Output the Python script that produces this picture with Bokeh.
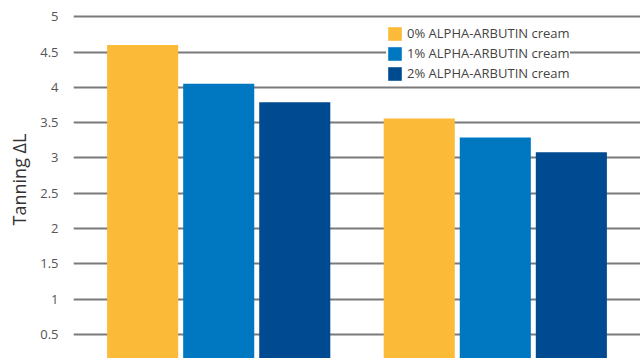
from bokeh.plotting import figure
from bokeh.models import FactorRange, Range1d, FixedTicker, Legend, LegendItem, ColumnDataSource
from bokeh.transform import dodge
from bokeh.embed import file_html
from bokeh.resources import INLINE

groups = ["Group A", "Group B"]
series_names = ["0% ALPHA-ARBUTIN cream", "1% ALPHA-ARBUTIN cream", "2% ALPHA-ARBUTIN cream"]
cream_0 = [4.6, 3.56]
cream_1 = [4.05, 3.29]
cream_2 = [3.79, 3.08]
tick_values = [0.5, 1, 1.5, 2, 2.5, 3, 3.5, 4, 4.5, 5]
tick_labels = ["0.5", "1", "1.5", "2", "2.5", "3", "3.5", "4", "4.5", "5"]
colors = ["#FBBA37", "#0078C1", "#004A92"]

src = ColumnDataSource(dict(group=groups, c0=cream_0, c1=cream_1, c2=cream_2))

x_range = FactorRange(factors=groups, range_padding=0.025, range_padding_units="percent")
p = figure(width=640, height=358, x_range=x_range, y_range=Range1d(0.16, 5.23),
           output_backend="svg", toolbar_location=None, x_axis_location=None,
           min_border_left=73, min_border_right=0, min_border_top=0, min_border_bottom=0)
p.outline_line_color = None
p.background_fill_color = "white"
p.border_fill_color = "white"

offsets = [-0.275, 0.0, 0.275]
renderers = []
for col, off, c in zip(["c0", "c1", "c2"], offsets, colors):
    r = p.vbar(x=dodge("group", off, range=p.x_range), top=col, bottom=0, width=0.257,
               source=src, fill_color=c, line_color=None)
    renderers.append(r)

ticker = FixedTicker(ticks=tick_values)
p.yaxis.ticker = ticker
p.yaxis.major_label_overrides = {v: l for v, l in zip(tick_values, tick_labels)}
p.yaxis.axis_line_color = None
p.yaxis.major_tick_line_color = None
p.yaxis.minor_tick_line_color = None
p.yaxis.major_label_standoff = 9
p.yaxis.major_label_text_font = "Open Sans"
p.yaxis.major_label_text_font_size = "13px"
p.yaxis.major_label_text_color = "#555555"
p.yaxis.axis_label = "Tanning ΔL"
p.yaxis.axis_label_text_font = "Open Sans"
p.yaxis.axis_label_text_font_style = "normal"
p.yaxis.axis_label_text_font_size = "18px"
p.yaxis.axis_label_text_color = "#333333"
p.yaxis.axis_label_standoff = 6

p.xgrid.grid_line_color = None
p.ygrid.ticker = ticker
p.ygrid.grid_line_color = "#7a7a7a"
p.ygrid.grid_line_width = 2

legend = Legend(items=[LegendItem(label=n, renderers=[r]) for n, r in zip(series_names, renderers)],
                location=(313, 276), padding=6, spacing=2, margin=0,
                glyph_width=17, glyph_height=17, label_height=17, label_standoff=4,
                label_width=161,
                label_text_font="Open Sans", label_text_font_size="13px",
                label_text_color="#444444", border_line_color=None,
                background_fill_color="white", background_fill_alpha=1.0)
p.add_layout(legend)

open("out.html", "w").write(file_html(p, INLINE))
